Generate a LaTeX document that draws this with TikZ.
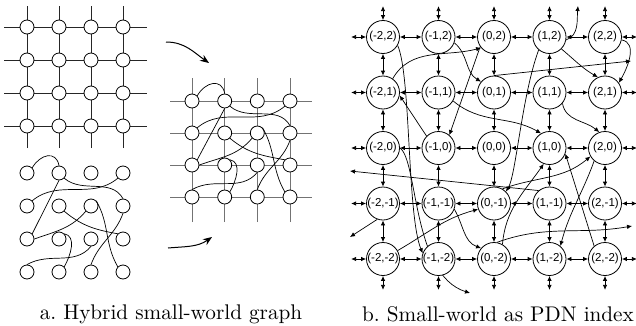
\documentclass[tikz,border=0pt]{standalone}
\usepackage{fontspec}
\newfontfamily\pdnfont{Liberation Sans}
\newfontfamily\capfont{lmroman10-regular.otf}
\usetikzlibrary{arrows.meta, positioning, backgrounds}
\tikzset{
  dot/.style={circle, draw, fill=white, minimum size=14pt, inner sep=0pt, line width=0.8pt},
  mesh/.style={line width=0.8pt, color=black!85},
  softmesh/.style={line width=0.8pt, color=black!55},
  wire/.style={line width=0.7pt},
  pdn/.style={circle, draw, fill=white, minimum size=33pt, inner sep=0pt,
    line width=0.8pt, font=\pdnfont\fontsize{11.5}{13}\selectfont},
  hop/.style={{Latex[length=5pt,width=4.5pt]}-{Latex[length=5pt,width=4.5pt]}, line width=0.8pt},
  jump/.style={-{Latex[length=5pt,width=4.5pt]}, line width=0.7pt},
  bigarrow/.style={-{Stealth[length=9pt,width=7pt]}, line width=1pt},
  caption/.style={font=\capfont\fontsize{21.2}{24}\selectfont}
}
\begin{document}
\begin{tikzpicture}[x=1pt, y=1pt]
  \useasboundingbox (0,0) rectangle (636,325);

  % plain mesh
  \foreach \v in {27,59,91,123} \draw[mesh] (\v,177) -- (\v,319);
  \foreach \v in {298,265,232,199} \draw[mesh] (4,\v) -- (147,\v);
  % mesh under the hybrid graph
  \foreach \v in {192,224.7,257.3,290} \draw[softmesh] (\v,103) -- (\v,247);
  \foreach \v in {224,192,160,128} \draw[softmesh] (170,\v) -- (312,\v);

  % Nodes
  \foreach \i/\x in {1/27,2/59,3/91,4/123} {
    \foreach \j/\y in {1/298,2/265,3/232,4/199} {
      \node[dot] (a\i\j) at (\x,\y) {};
      \node[dot] (b\i\j) at (\x,\y-146) {};
    }
  }
  \foreach \i/\x in {1/192,2/224.7,3/257.3,4/290} {
    \foreach \j/\y in {1/224,2/192,3/160,4/128} {
      \node[dot] (c\i\j) at (\x,\y) {};
    }
  }

  % random links, same for both graphs
  \foreach \g in {b,c} {
    \draw[wire] (\g11.north east) to[out=60,in=100,looseness=1.5] (\g21.north);
    \draw[wire] (\g21.south) -- (\g13.north east);
    \draw[wire] (\g21.south east) to[out=-40,in=120] (\g42.north);
    \draw[wire] (\g41.south west) to[out=-140,in=40] (\g12.north east);
    \draw[wire] (\g22.south east) to[out=-40,in=170] (\g43.north west);
    \draw[wire] (\g32.south west) to[out=-130,in=20] (\g13.east);
    \draw[wire] (\g32.north east) to[out=-60,in=120] (\g44.north west);
    \draw[wire] (\g42.south) to[out=-110,in=70] (\g34.north);
    \draw[wire] (\g23.north east) to[out=-10,in=60] (\g24.north east);
    \draw[wire] (\g33.south) to[out=-130,in=30] (\g14.north);
  }

  % Arrows
  \coordinate (top1) at (166,283);
  \coordinate (top2) at (209,262);
  \coordinate (bot1) at (168,77);
  \coordinate (bot2) at (212,88);
  \draw[bigarrow] (top1) to[out=0,in=145] (top2);
  \draw[bigarrow] (bot1) to[out=5,in=215] (bot2);

  % PDN index, n<x+2><y+2>
  \foreach \c in {0,...,4} {
    \foreach \r in {0,...,4} {
      \pgfmathtruncatemacro\ci{\c-2}
      \pgfmathtruncatemacro\ri{\r-2}
      \node[pdn] (n\c\r) at ({383+55.5*\c},{66+55.5*\r}) {(\ci,\ri)};
    }
  }
  \foreach \c in {0,...,4} {
    \foreach \r in {0,...,3} {
      \pgfmathtruncatemacro\rn{\r+1}
      \draw[hop] (n\c\r.north) -- (n\c\rn.south);
      \draw[hop] (n\r\c.east) -- (n\rn\c.west);
    }
  }
  \foreach \k in {0,...,4} {
    \draw[hop] (n0\k.west) -- ++(-15,0);
    \draw[hop] (n4\k.east) -- ++(15,0);
    \draw[hop] (n\k4.north) -- ++(0,14);
    \draw[hop] (n\k0.south) -- ++(0,-14);
  }

  % long links
  \coordinate (outB) at (470,32);
  \coordinate (outT) at (578,319);
  \coordinate (outR1) at (631,264);
  \coordinate (outR2) at (632,99);
  \coordinate (outL1) at (350,154);
  \coordinate (outL2) at (350,88);
  \begin{scope}[on background layer]
    \draw[jump] (n04.-30) .. controls (411,250) and (407,110) .. (n10.160);
    \draw[jump] (n02.east) .. controls (418,165) and (412,50) .. (outB);
    \draw[jump] (n03.55) to[out=60,in=195] (n24.220);
    \draw[jump] (n12.135) -- (n03.-10);
    \draw[jump] (n24.215) -- (n12.50);
    \draw[jump] (n14.-20) to[out=-40,in=150] (n23.140);
    \draw[jump] (n13.-30) to[out=-40,in=150] (n32.120);
    \draw[jump] (n23.north) -- (outR1);
    \draw[jump] (n34.-10) to[out=20,in=-95] (outT);
    \draw[jump] (n34.230) .. controls (522,230) and (516,150) .. (n21.45);
    \draw[jump] (n34.-45) to[out=-40,in=150] (n43.115);
    \draw[jump] (n44.-10) to[out=-10,in=60] (n43.35);
    \draw[jump] (n33.-40) to[out=-80,in=140] (n42.110);
    \draw[jump] (n31.130) -- (outL1);
    \draw[jump] (n21.60) to[out=20,in=220] (n42.210);
    \draw[jump] (n20.60) to[out=85,in=235] (n32.250);
    \draw[jump] (n11.-20) to[out=-60,in=160] (n20.140);
    \draw[jump] (n00.30) to[out=30,in=195] (n21.200);
    \draw[jump] (n01.250) -- (outL2);
    \draw[jump] (n40.130) -- (n32.-20);
    \draw[jump] (n42.230) to[out=250,in=75] (n30.50);
    \draw[jump] (n20.80) to[out=20,in=190] (outR2);
  \end{scope}

  \node[caption] (capa) at (171,11) {a.\ Hybrid small-world graph};
  \node[caption] (capb) at (498,11) {b.\ Small-world as PDN index};

\end{tikzpicture}
\end{document}
